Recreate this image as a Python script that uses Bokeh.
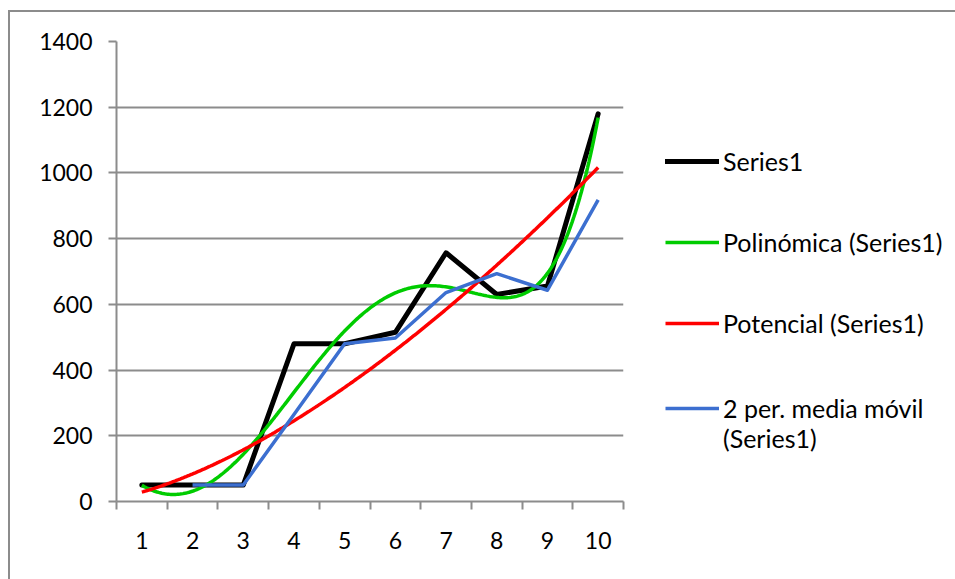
import numpy as np
from bokeh.plotting import figure
from bokeh.models import FixedTicker, Legend, LegendItem, Range1d
from bokeh.embed import file_html
from bokeh.resources import INLINE

# Source data
categories = ["1", "2", "3", "4", "5", "6", "7", "8", "9", "10"]
series1 = [50, 50, 50, 480, 480, 515, 757, 630, 656, 1180]
y_ticks = [0, 200, 400, 600, 800, 1000, 1200, 1400]
legend_labels = ["Series1", "Polinómica (Series1)", "Potencial (Series1)",
                 "2 per. media móvil\n(Series1)"]

FONT = "Lato"
GRAY = "#8c8c8c"
POLY_ORDER = 5

x = np.arange(1, len(categories) + 1, dtype=float)
y = np.array(series1, dtype=float)

# Trend lines derived from Series1
xs = np.linspace(x[0], x[-1], 300)
poly_y = np.polyval(np.polyfit(x, y, POLY_ORDER), xs)

b, ln_a = np.polyfit(np.log(x), np.log(y), 1)
power_y = np.exp(ln_a) * xs ** b

ma_x = x[1:]
ma_y = (y[1:] + y[:-1]) / 2.0

p = figure(frame_width=507, frame_height=460,
           output_backend="svg", toolbar_location=None,
           x_range=Range1d(0.5, len(categories) + 0.5), y_range=Range1d(0, 1400),
           min_border_left=116, min_border_right=0,
           min_border_top=41, min_border_bottom=78)
p.outline_line_color = None
p.background_fill_color = "white"
p.border_fill_color = None
# Chart-area border (left and top edges)
p.styles = {
    "background-color": "white",
    "background-image": "linear-gradient(#8c8c8c, #8c8c8c), linear-gradient(#8c8c8c, #8c8c8c)",
    "background-size": "2px 100%, 100% 2px",
    "background-position": "8px 10px, 8px 10px",
    "background-repeat": "no-repeat",
}

# Gridlines
p.xgrid.visible = False
p.ygrid.ticker = FixedTicker(ticks=y_ticks)
p.ygrid.grid_line_color = GRAY
p.ygrid.grid_line_width = 2

# Y axis
yax = p.yaxis[0]
yax.ticker = FixedTicker(ticks=y_ticks)
yax.axis_line_color = GRAY
yax.axis_line_width = 2
yax.major_tick_line_color = GRAY
yax.major_tick_line_width = 2
yax.major_tick_out = 8
yax.major_tick_in = 0
yax.minor_tick_line_color = None
yax.major_label_standoff = 16
yax.major_label_text_font = FONT
yax.major_label_text_font_size = "23px"
yax.major_label_text_color = "black"

# X axis: labels at category centres, tick marks between categories
xax = p.xaxis[0]
xax.ticker = FixedTicker(ticks=list(x),
                         minor_ticks=list(np.arange(0.5, len(categories) + 1, 1.0)))
xax.major_label_overrides = {float(i + 1): c for i, c in enumerate(categories)}
xax.axis_line_color = GRAY
xax.axis_line_width = 2
xax.major_tick_line_color = None
xax.major_tick_out = 8
xax.major_tick_in = 0
xax.minor_tick_line_color = GRAY
xax.minor_tick_line_width = 2
xax.minor_tick_out = 8
xax.minor_tick_in = 0
xax.major_label_standoff = 22
xax.major_label_text_font = FONT
xax.major_label_text_font_size = "23px"
xax.major_label_text_color = "black"

# Series and trend lines
r_s1 = p.line(x, y, line_color="black", line_width=5,
              line_join="round", line_cap="round")
r_poly = p.line(xs, poly_y, line_color="#00cc00", line_width=3.5)
r_pow = p.line(xs, power_y, line_color="#ff0000", line_width=3.5)
r_ma = p.line(ma_x, ma_y, line_color="#3c6fd0", line_width=3.5,
              line_join="round")

# A two-line label gets an empty first line, so that its centred glyph
# lines up with the label's first line of text.
def legend_text(label):
    return "\n" + label if "\n" in label else label

legend = Legend(
    items=[LegendItem(label=legend_text(lbl), renderers=[r])
           for lbl, r in zip(legend_labels, [r_s1, r_poly, r_pow, r_ma])],
    location=(42, 48), padding=0, margin=0, spacing=0,
    glyph_width=54, glyph_height=20, label_height=81, label_standoff=4,
    border_line_color=None, background_fill_alpha=0,
    label_text_font=FONT, label_text_font_size="25px", label_text_color="black")
p.add_layout(legend, "right")

open("out.html", "w").write(file_html(p, INLINE))
